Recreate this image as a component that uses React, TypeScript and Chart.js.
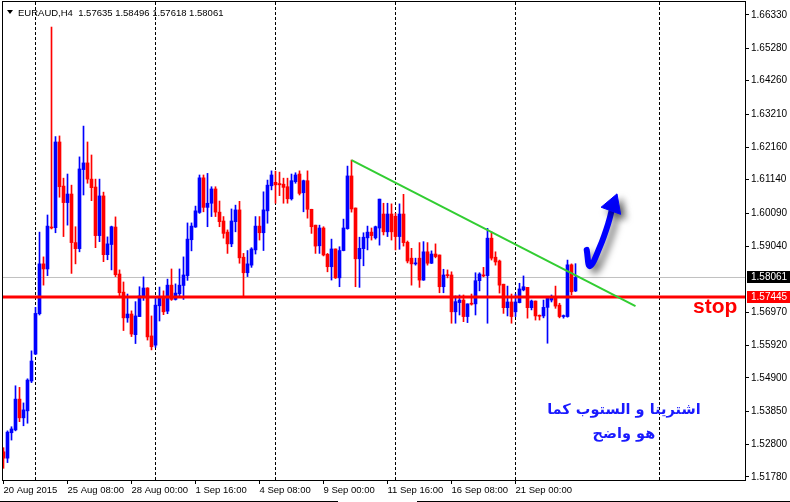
import React, { useEffect, useRef } from 'react';
import { Chart, registerables } from 'chart.js';

Chart.register(...registerables);

const FONT = "'Liberation Sans', Arial, sans-serif";

// EURAUD H4 candles (bar index 0 = 20 Aug 2015)
const opens = [
  1.5257, 1.5237, 1.5317, 1.5326, 1.5423, 1.5364, 1.5386, 1.5480, 1.5565, 1.5692,
  1.5849, 1.5833, 1.5965, 1.5963, 1.6233, 1.6094, 1.6042, 1.6069, 1.5916, 1.5897,
  1.6146, 1.6167, 1.6116, 1.6091, 1.5938, 1.6063, 1.5878, 1.5910, 1.5965, 1.5817,
  1.5760, 1.5679, 1.5691, 1.5626, 1.5683, 1.5745, 1.5773, 1.5622, 1.5593, 1.5717,
  1.5742, 1.5700, 1.5782, 1.5737, 1.5755, 1.5781, 1.5812, 1.5925, 1.5965, 1.6011,
  1.6120, 1.6027, 1.6040, 1.6085, 1.6012, 1.5984, 1.5949, 1.5912, 1.5982, 1.6019,
  1.5870, 1.5821, 1.5845, 1.5893, 1.5968, 1.5947, 1.6016, 1.6095, 1.6106, 1.6102,
  1.6100, 1.6092, 1.6054, 1.6108, 1.6132, 1.6073, 1.6111, 1.6021, 1.5971, 1.5906,
  1.5962, 1.5879, 1.5840, 1.5896, 1.5805, 1.5891, 1.5960, 1.6126, 1.6025, 1.5865,
  1.5897, 1.5931, 1.5949, 1.5931, 1.5962, 1.6006, 1.5950, 1.6006, 1.5999, 1.5935,
  1.6006, 1.5917, 1.5867, 1.5849, 1.5867, 1.5798, 1.5887, 1.5851, 1.5880, 1.5877,
  1.5777, 1.5814, 1.5814, 1.5698, 1.5727, 1.5735, 1.5683, 1.5723, 1.5723, 1.5796,
  1.5812, 1.5812, 1.5930, 1.5870, 1.5858, 1.5785, 1.5711, 1.5729, 1.5698, 1.5727,
  1.5767, 1.5775, 1.5711, 1.5732, 1.5685, 1.5685, 1.5712, 1.5735, 1.5746, 1.5719,
  1.5683, 1.5683, 1.5846, 1.57635,
];
const highs = [
  1.5270, 1.5323, 1.5336, 1.5465, 1.5460, 1.5411, 1.5487, 1.5575, 1.5712, 1.5949,
  1.5871, 1.6003, 1.6595, 1.6250, 1.6252, 1.6119, 1.6132, 1.6097, 1.5966, 1.6186,
  1.6283, 1.6233, 1.6192, 1.6116, 1.6116, 1.6075, 1.5934, 1.5968, 1.5997, 1.5830,
  1.5792, 1.5754, 1.5701, 1.5730, 1.5777, 1.5808, 1.5774, 1.5685, 1.5742, 1.5776,
  1.5764, 1.5801, 1.5833, 1.5786, 1.5833, 1.5871, 1.5978, 1.5978, 1.6031, 1.6129,
  1.6129, 1.6134, 1.6092, 1.6092, 1.6047, 1.5998, 1.5956, 1.6022, 1.6034, 1.6046,
  1.5882, 1.5891, 1.5900, 1.5998, 1.5998, 1.6076, 1.6113, 1.6142, 1.6141, 1.6138,
  1.6119, 1.6119, 1.6132, 1.6136, 1.6142, 1.6113, 1.6142, 1.6021, 1.5971, 1.5971,
  1.5966, 1.5882, 1.5927, 1.5896, 1.5903, 1.5990, 1.6157, 1.6176, 1.6025, 1.5933,
  1.5947, 1.5968, 1.5962, 1.5968, 1.6053, 1.6040, 1.6040, 1.6038, 1.6008, 1.6038,
  1.6068, 1.5921, 1.5898, 1.5867, 1.5916, 1.5919, 1.5916, 1.5890, 1.5912, 1.5877,
  1.5832, 1.5830, 1.5824, 1.5748, 1.5751, 1.5751, 1.5723, 1.5754, 1.5821, 1.5821,
  1.5838, 1.5961, 1.5950, 1.5887, 1.5861, 1.5785, 1.5779, 1.5754, 1.5754, 1.5788,
  1.5811, 1.5775, 1.5735, 1.5732, 1.5688, 1.5735, 1.5746, 1.5751, 1.5779, 1.5725,
  1.5688, 1.5861, 1.5849, 1.58496,
];
const lows = [
  1.5205, 1.5223, 1.5294, 1.5323, 1.5352, 1.5339, 1.5347, 1.5475, 1.5563, 1.5688,
  1.5782, 1.5812, 1.5959, 1.5947, 1.6059, 1.5935, 1.5971, 1.5819, 1.5849, 1.5887,
  1.6066, 1.6103, 1.6048, 1.5900, 1.5919, 1.5856, 1.5862, 1.5830, 1.5809, 1.5749,
  1.5639, 1.5665, 1.5620, 1.5598, 1.5683, 1.5734, 1.5609, 1.5578, 1.5586, 1.5669,
  1.5689, 1.5692, 1.5734, 1.5735, 1.5746, 1.5737, 1.5797, 1.5890, 1.5964, 1.6008,
  1.6013, 1.5966, 1.5998, 1.5998, 1.5966, 1.5930, 1.5882, 1.5903, 1.5950, 1.5851,
  1.5746, 1.5809, 1.5838, 1.5880, 1.5924, 1.5891, 1.5977, 1.6082, 1.6040, 1.6064,
  1.6040, 1.6040, 1.6050, 1.6103, 1.6066, 1.6013, 1.5993, 1.5945, 1.5882, 1.5882,
  1.5874, 1.5824, 1.5798, 1.5803, 1.5777, 1.5890, 1.5958, 1.6012, 1.5777, 1.5775,
  1.5843, 1.5893, 1.5924, 1.5927, 1.5908, 1.5940, 1.5935, 1.5924, 1.5893, 1.5895,
  1.5905, 1.5852, 1.5782, 1.5845, 1.5775, 1.5797, 1.5845, 1.5850, 1.5868, 1.5758,
  1.5758, 1.5805, 1.5662, 1.5662, 1.5688, 1.5667, 1.5664, 1.5719, 1.5688, 1.5764,
  1.5808, 1.5662, 1.5861, 1.5845, 1.5757, 1.5693, 1.5685, 1.5662, 1.5683, 1.5726,
  1.5764, 1.5678, 1.5704, 1.5672, 1.5672, 1.5679, 1.5599, 1.5729, 1.5709, 1.5679,
  1.5678, 1.5681, 1.5751, 1.57618,
];
const closes = [
  1.5237, 1.5319, 1.5329, 1.5423, 1.5364, 1.5389, 1.5483, 1.5543, 1.5693, 1.5849,
  1.5833, 1.5968, 1.5962, 1.6233, 1.6092, 1.6042, 1.6069, 1.5916, 1.5897, 1.6148,
  1.6167, 1.6116, 1.6089, 1.5938, 1.6063, 1.5878, 1.5912, 1.5966, 1.5815, 1.5758,
  1.5679, 1.5691, 1.5628, 1.5685, 1.5748, 1.5773, 1.5619, 1.5588, 1.5719, 1.5742,
  1.5698, 1.5782, 1.5737, 1.5757, 1.5782, 1.5814, 1.5927, 1.5968, 1.6016, 1.6120,
  1.6027, 1.6040, 1.6085, 1.6012, 1.5982, 1.5945, 1.5912, 1.5984, 1.6019, 1.5868,
  1.5821, 1.5849, 1.5896, 1.5968, 1.5947, 1.6019, 1.6097, 1.6129, 1.6098, 1.6098,
  1.6090, 1.6054, 1.6111, 1.6129, 1.6071, 1.6111, 1.6021, 1.5966, 1.5905, 1.5962,
  1.5877, 1.5840, 1.5896, 1.5805, 1.5891, 1.5962, 1.6126, 1.6022, 1.5865, 1.5898,
  1.5933, 1.5949, 1.5938, 1.5966, 1.6053, 1.5950, 1.6006, 1.5950, 1.5935, 1.6006,
  1.5916, 1.5858, 1.5849, 1.5852, 1.5798, 1.5887, 1.5851, 1.5880, 1.5872, 1.5777,
  1.5814, 1.5812, 1.5698, 1.5730, 1.5735, 1.5683, 1.5723, 1.5722, 1.5796, 1.5817,
  1.5811, 1.5930, 1.5867, 1.5855, 1.5782, 1.5711, 1.5729, 1.5683, 1.5729, 1.5770,
  1.5777, 1.5711, 1.5732, 1.5685, 1.5684, 1.5712, 1.5741, 1.5746, 1.5716, 1.5683,
  1.5684, 1.5846, 1.5761, 1.58061,
];

const xTickBars = [0, 16, 32, 48, 64, 80, 96, 112, 128];
const xTickLabels = [
  '20 Aug 2015', '25 Aug 08:00', '28 Aug 00:00', '1 Sep 16:00', '4 Sep 08:00',
  '9 Sep 00:00', '11 Sep 16:00', '16 Sep 08:00', '21 Sep 00:00',
];
const yTickValues = [
  1.6633, 1.6528, 1.6426, 1.6321, 1.6216, 1.6114, 1.6009, 1.5904,
  1.5697, 1.5592, 1.549, 1.5385, 1.528, 1.5178,
];
const separatorBars = [8, 38, 68, 98, 128, 164];

const symbolTitle = 'EURAUD,H4';
const bidPrice = 1.58061;
const stopPrice = 1.57445;
const trendBars = [87, 158];
const trendPrices = [1.6176, 1.5716];
const arrowBars = [145.8, 146.6, 149.1, 151.2, 152.35];
const arrowPrices = [1.5893, 1.5842, 1.5903, 1.5977, 1.6034];
const stopLabel = 'stop';
const noteLines = ['اشترينا و الستوب كما', 'هو واضح'];

export default function App() {
  const ref = useRef<HTMLCanvasElement>(null);

  useEffect(() => {
    const canvas = ref.current;
    if (!canvas) return;
    const idx = closes.map((_, i) => i);
    const colors = idx.map((i) => (closes[i] >= opens[i] ? '#0000ff' : '#ff0000'));
    const xMin = -0.375;
    const xMax = 185.625;
    const yMin = 1.51682;
    const yMax = 1.66739;
    const last = closes.length - 1;

    const overlay = {
      id: 'overlay',
      beforeDatasetsDraw(chart: any) {
        const { ctx, chartArea } = chart;
        const xs = chart.scales.x;
        ctx.save();
        ctx.strokeStyle = '#000';
        ctx.lineWidth = 1;
        ctx.setLineDash([3, 2]);
        separatorBars.forEach((b) => {
          const px = Math.floor(xs.getPixelForValue(b)) + 0.5;
          ctx.beginPath();
          ctx.moveTo(px, chartArea.top);
          ctx.lineTo(px, chartArea.bottom);
          ctx.stroke();
        });
        ctx.restore();
      },
      beforeDatasetDraw(chart: any, args: any) {
        const ds = chart.data.datasets[args.index];
        if (ds.label === 'arrow') {
          const ctx = chart.ctx;
          ctx.save();
          ctx.shadowColor = 'rgba(0,0,0,0.5)';
          ctx.shadowBlur = 7;
          ctx.shadowOffsetX = 5;
          ctx.shadowOffsetY = 5;
        }
      },
      afterDatasetDraw(chart: any, args: any) {
        const ds = chart.data.datasets[args.index];
        if (ds.label === 'arrow') chart.ctx.restore();
      },
      afterDraw(chart: any) {
        const { ctx, chartArea } = chart;
        const xs = chart.scales.x;
        const ys = chart.scales.y;
        ctx.save();
        // frame
        ctx.strokeStyle = '#000';
        ctx.lineWidth = 1;
        ctx.strokeRect(chartArea.left + 0.5, chartArea.top - 0.5, chartArea.right - chartArea.left - 1, chartArea.bottom - chartArea.top + 1);
        // window edge below the time axis
        ctx.beginPath();
        ctx.moveTo(0, 501.5);
        ctx.lineTo(338, 501.5);
        ctx.moveTo(417, 501.5);
        ctx.lineTo(790, 501.5);
        ctx.stroke();
        // header
        ctx.fillStyle = '#000';
        ctx.beginPath();
        ctx.moveTo(7, 10);
        ctx.lineTo(13, 10);
        ctx.lineTo(10, 14);
        ctx.closePath();
        ctx.fill();
        ctx.font = `9.5px ${FONT}`;
        ctx.textBaseline = 'alphabetic';
        ctx.textAlign = 'left';
        const hdr = `${symbolTitle}  ${opens[last].toFixed(5)} ${highs[last].toFixed(5)} ${lows[last].toFixed(5)} ${closes[last].toFixed(5)}`;
        ctx.fillText(hdr, 18, 16);
        // price labels
        const boxX = chartArea.right + 1;
        const drawBox = (price: number, bg: string) => {
          const py = Math.round(ys.getPixelForValue(price));
          ctx.fillStyle = bg;
          ctx.fillRect(boxX, py - 6, 790 - boxX, 12);
          ctx.fillStyle = '#fff';
          ctx.font = `10px ${FONT}`;
          ctx.textBaseline = 'middle';
          ctx.fillText(price.toFixed(5), boxX + 4, py);
        };
        drawBox(bidPrice, '#000');
        drawBox(stopPrice, '#ff0000');
        // stop text
        ctx.fillStyle = '#ff0000';
        ctx.font = `bold 21px ${FONT}`;
        ctx.textBaseline = 'alphabetic';
        ctx.textAlign = 'left';
        ctx.fillText(stopLabel, 693, 313);
        // arabic note
        ctx.fillStyle = '#1a1aff';
        ctx.font = `bold 14.5px 'DejaVu Sans', sans-serif`;
        ctx.textAlign = 'center';
        (ctx as any).direction = 'rtl';
        const cx = xs.getPixelForValue(155.1);
        ctx.fillText(noteLines[0], cx, 414);
        ctx.fillText(noteLines[1], cx, 438);
        ctx.restore();
      },
    };

    const chart = new Chart(canvas, {
      type: 'bar',
      data: {
        datasets: [
          {
            type: 'line',
            label: 'trend',
            data: trendBars.map((b, i) => ({ x: b, y: trendPrices[i] })),
            borderColor: '#32cd32',
            borderWidth: 2,
            pointRadius: 0,
            order: 0,
          } as any,
          {
            type: 'line',
            label: 'arrow',
            data: arrowBars.map((b, i) => ({ x: b, y: arrowPrices[i] })),
            borderColor: '#0000ff',
            borderWidth: 6,
            tension: 0.4,
            borderCapStyle: 'round',
            pointRadius: arrowBars.map((_, i) => (i === arrowBars.length - 1 ? 12 : 0)),
            pointStyle: 'triangle',
            rotation: 20,
            pointBackgroundColor: '#0000ff',
            pointBorderColor: '#0000ff',
            pointBorderWidth: 1,
            order: 1,
          } as any,
          {
            type: 'line',
            label: 'stop',
            data: [{ x: xMin, y: stopPrice }, { x: xMax, y: stopPrice }],
            borderColor: '#ff0000',
            borderWidth: 3,
            pointRadius: 0,
            order: 2,
          } as any,
          {
            type: 'bar',
            label: 'body',
            data: idx.map((i) => ({ x: i, y: [opens[i], closes[i]] })),
            backgroundColor: colors,
            barThickness: 3,
            minBarLength: 1,
            grouped: false,
            borderWidth: 0,
            order: 3,
          } as any,
          {
            type: 'bar',
            label: 'wick',
            data: idx.map((i) => ({ x: i, y: [lows[i], highs[i]] })),
            backgroundColor: colors,
            barThickness: 1,
            minBarLength: 1,
            grouped: false,
            borderWidth: 0,
            order: 4,
          } as any,
          {
            type: 'line',
            label: 'bid',
            data: [{ x: xMin, y: bidPrice }, { x: xMax, y: bidPrice }],
            borderColor: '#c0c0c0',
            borderWidth: 1,
            pointRadius: 0,
            order: 5,
          } as any,
        ],
      },
      options: {
        animation: false,
        responsive: false,
        devicePixelRatio: 1,
        events: [],
        layout: { autoPadding: false, padding: { left: 2, top: 2, right: 0, bottom: 0 } },
        plugins: { legend: { display: false }, tooltip: { enabled: false } },
        scales: {
          x: {
            type: 'linear',
            min: xMin,
            max: xMax,
            offset: false,
            position: 'bottom',
            border: { display: false },
            grid: { drawOnChartArea: false, drawTicks: true, tickLength: 4, color: '#000', offset: false },
            ticks: {
              autoSkip: false,
              maxRotation: 0,
              align: 'start',
              padding: 1,
              color: '#000',
              font: { family: FONT, size: 9.5 },
              callback: (_v: any, i: number) => xTickLabels[i],
            },
            afterBuildTicks: (s: any) => {
              s.ticks = xTickBars.map((v) => ({ value: v }));
            },
            afterFit: (s: any) => {
              s.height = 22;
              s.paddingLeft = 0;
              s.paddingRight = 0;
              s.paddingTop = 0;
              s.paddingBottom = 0;
            },
          },
          y: {
            type: 'linear',
            position: 'right',
            min: yMin,
            max: yMax,
            border: { display: false },
            grid: { drawOnChartArea: false, drawTicks: true, tickLength: 3, color: '#000' },
            ticks: {
              padding: 2,
              color: '#000',
              font: { family: FONT, size: 10 },
              callback: (v: any) => Number(v).toFixed(5),
            },
            afterBuildTicks: (s: any) => {
              s.ticks = yTickValues.map((v) => ({ value: v }));
            },
            afterFit: (s: any) => {
              s.width = 44;
              s.paddingLeft = 0;
              s.paddingRight = 0;
              s.paddingTop = 0;
              s.paddingBottom = 0;
            },
          },
        },
      } as any,
      plugins: [overlay],
    });
    return () => chart.destroy();
  }, []);

  return (
    <div style={{ position: 'fixed', left: 0, top: 0, width: 790, height: 502, background: '#fff' }}>
      <canvas ref={ref} width={790} height={502} style={{ display: 'block' }} />
    </div>
  );
}
